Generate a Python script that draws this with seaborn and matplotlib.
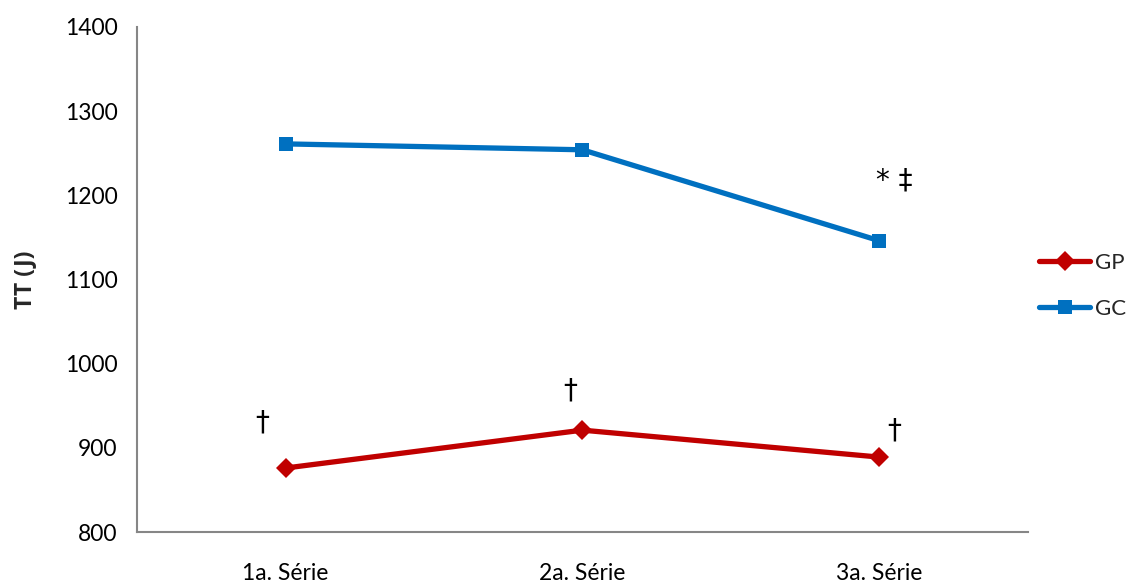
import matplotlib
matplotlib.use("Agg")
import matplotlib.pyplot as plt
import seaborn as sns
import pandas as pd

categories = ["1a. Série", "2a. Série", "3a. Série"]
gp_values = [876, 921, 889]
gc_values = [1261, 1254, 1146]
series_names = ["GP", "GC"]
y_ticks = [800, 900, 1000, 1100, 1200, 1300, 1400]

sns.set_theme(style="white")
plt.rcParams["font.family"] = ["Lato", "DejaVu Sans"]

df = pd.DataFrame({
    "pos": list(range(len(categories))) * 2,
    "value": gp_values + gc_values,
    "grupo": [series_names[0]] * 3 + [series_names[1]] * 3,
})

fig = plt.figure(figsize=(11.33, 5.84), dpi=100)
ax = fig.add_axes([0.121, 0.089, 0.786, 0.865])

palette = {"GP": "#C00000", "GC": "#0070C0"}
markers = {"GP": "D", "GC": "s"}
sns.lineplot(data=df, x="pos", y="value", hue="grupo", style="grupo",
             palette=palette, markers=markers, dashes=False, linewidth=3.8,
             markersize=10.5, markeredgewidth=0, ax=ax, legend=True)

ax.set_xlim(-0.5, 2.5)
ax.set_ylim(800, 1400)
ax.set_yticks(y_ticks)
ax.set_xticks(range(len(categories)))
ax.set_xticklabels(categories)
ax.tick_params(axis="both", labelsize=16.5, length=0, colors="black")
ax.tick_params(axis="x", pad=22)
ax.tick_params(axis="y", pad=14)
ax.set_xlabel("")
ax.set_ylabel("TT (J)", fontsize=16.5, fontweight="bold", labelpad=20,
              family=["Open Sans", "DejaVu Sans"])

for side in ["top", "right"]:
    ax.spines[side].set_visible(False)
for side in ["left", "bottom"]:
    ax.spines[side].set_color("#868686")
    ax.spines[side].set_linewidth(1.5)

# significance marks
marks = [(-0.08, 930, "†"), (0.96, 968, "†"), (2.05, 920, "†"), (2.05, 1218, "* ‡")]
for x, y, s in marks:
    ax.text(x, y, s, fontsize=20, ha="center", va="center", color="black",
            family=["DejaVu Sans"])

handles, labels = ax.get_legend_handles_labels()
ax.legend(handles, labels, loc="center left", bbox_to_anchor=(1.013, 0.487),
          frameon=False, fontsize=16, handlelength=2.3, handletextpad=0.2,
          labelspacing=1.15, borderaxespad=0, borderpad=0)

fig.savefig("out.png", dpi=100, facecolor="white")
